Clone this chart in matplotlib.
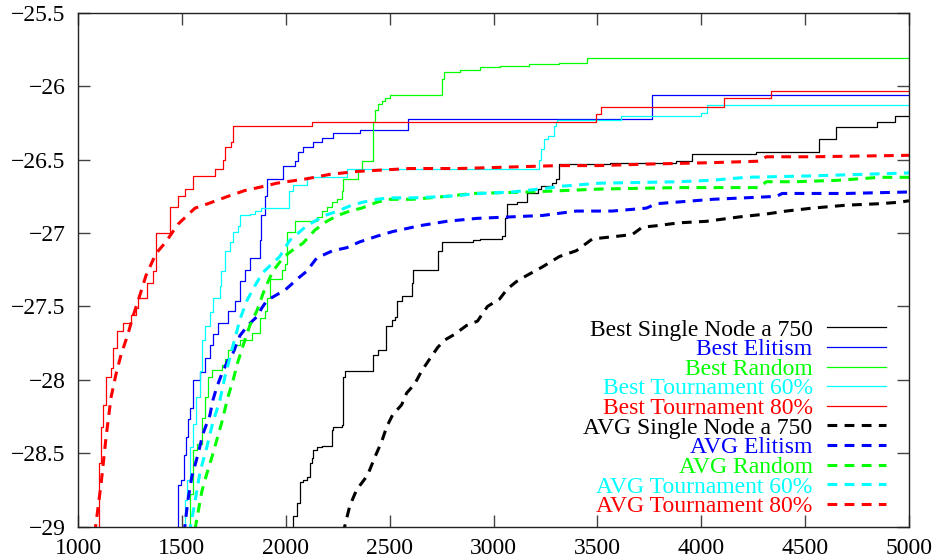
import matplotlib
matplotlib.use("Agg")
import matplotlib.pyplot as plt
from matplotlib.ticker import FuncFormatter

# ---- data (evaluations vs. fitness) ----
best_single_x = [2025, 2034, 2053, 2067, 2082, 2101, 2115, 2125, 2130, 2149,
                 2173, 2221, 2226, 2269, 2274, 2284, 2418, 2442, 2481, 2510,
                 2524, 2534, 2558, 2606, 2611, 2731, 2750, 2899, 2933, 3039,
                 3053, 3063, 3111, 3159, 3212, 3231, 3284, 3303, 3313, 3560,
                 3880, 3957, 4264, 4568, 4649, 4846, 4933, 5000]
best_single_y = [-29.1, -28.93, -28.84, -28.70, -28.68, -28.66, -28.57, -28.53, -28.48, -28.46,
                 -28.45, -28.34, -28.32, -28.31, -27.98, -27.94, -27.83, -27.80, -27.63, -27.59,
                 -27.57, -27.46, -27.43, -27.34, -27.25, -27.12, -27.06, -27.05, -27.04, -27.02,
                 -26.90, -26.80, -26.79, -26.73, -26.70, -26.68, -26.66, -26.63, -26.53, -26.52,
                 -26.51, -26.46, -26.45, -26.36, -26.28, -26.24, -26.20, -26.20]

best_elit_x = [1465, 1481, 1495, 1510, 1519, 1529, 1538, 1553, 1587, 1611,
               1635, 1649, 1673, 1721, 1755, 1779, 1803, 1827, 1875, 1880,
               1899, 1909, 1986, 2043, 2058, 2082, 2130, 2173, 2226, 2356,
               2587, 3765, 5000]
best_elit_y = [-29.1, -28.72, -28.68, -28.51, -28.39, -28.27, -28.19, -28.00, -27.95, -27.85,
               -27.76, -27.69, -27.61, -27.53, -27.46, -27.33, -27.25, -27.17, -27.05, -26.88,
               -26.75, -26.63, -26.54, -26.51, -26.45, -26.41, -26.38, -26.35, -26.32, -26.30,
               -26.22, -26.06, -26.06]

best_rand_x = [1500, 1538, 1553, 1572, 1596, 1611, 1625, 1644, 1692, 1707,
               1721, 1755, 1779, 1837, 1875, 1899, 1909, 1923, 1981, 1995,
               2005, 2043, 2149, 2173, 2197, 2221, 2245, 2269, 2274, 2346,
               2365, 2418, 2428, 2442, 2462, 2476, 2500, 2750, 2764, 2837,
               2933, 3029, 3173, 3317, 3452, 5000]
best_rand_y = [-29.1, -28.78, -28.48, -28.44, -28.26, -28.12, -27.98, -27.93, -27.90, -27.86,
               -27.80, -27.76, -27.73, -27.68, -27.58, -27.53, -27.44, -27.31, -27.25, -27.21,
               -26.99, -26.92, -26.89, -26.85, -26.82, -26.79, -26.77, -26.71, -26.63, -26.58,
               -26.51, -26.24, -26.16, -26.12, -26.10, -26.08, -26.06, -25.95, -25.90, -25.89,
               -25.87, -25.86, -25.85, -25.84, -25.81, -25.81]

best_t60_x = [1500, 1514, 1524, 1538, 1553, 1567, 1587, 1596, 1611, 1635,
              1649, 1683, 1688, 1707, 1731, 1745, 1769, 1779, 1827, 1851,
              1880, 2014, 2034, 2101, 2293, 3221, 3231, 3245, 3260, 3293,
              3303, 3308, 3616, 4000, 4029, 5000]
best_t60_y = [-29.1, -28.82, -28.68, -28.46, -28.30, -28.12, -27.94, -27.73, -27.63, -27.54,
              -27.44, -27.36, -27.26, -27.12, -27.06, -26.99, -26.95, -26.88, -26.87, -26.85,
              -26.83, -26.71, -26.67, -26.62, -26.56, -26.50, -26.43, -26.36, -26.34, -26.27,
              -26.24, -26.23, -26.20, -26.18, -26.13, -26.13]

best_t80_x = [1085, 1100, 1110, 1120, 1135, 1160, 1170, 1190, 1215, 1255,
              1280, 1290, 1330, 1360, 1375, 1442, 1481, 1514, 1553, 1659,
              1697, 1707, 1736, 1745, 2125, 3495, 3519, 4111, 4337, 5000]
best_t80_y = [-29.2, -28.57, -28.32, -28.17, -27.98, -27.92, -27.78, -27.67, -27.61, -27.56,
              -27.51, -27.44, -27.34, -27.26, -27.00, -26.82, -26.75, -26.70, -26.61, -26.56,
              -26.50, -26.41, -26.38, -26.27, -26.24, -26.19, -26.14, -26.08, -26.03, -26.03]

avg_single_x = [2275, 2308, 2341, 2394, 2428, 2462, 2486, 2514, 2558, 2582,
                2620, 2654, 2692, 2731, 2764, 2813, 2870, 2923, 2971, 3029,
                3067, 3111, 3159, 3236, 3317, 3399, 3476, 3606, 3668, 3716,
                3784, 3894, 4024, 4183, 4313, 4409, 4534, 4697, 4856, 4952,
                5000]
avg_single_y = [-29.05, -28.86, -28.75, -28.65, -28.53, -28.42, -28.32, -28.24, -28.17, -28.09,
                -28.03, -27.94, -27.86, -27.78, -27.73, -27.69, -27.63, -27.60, -27.50, -27.45,
                -27.38, -27.33, -27.29, -27.23, -27.16, -27.12, -27.04, -27.02, -27.01, -26.96,
                -26.95, -26.93, -26.92, -26.89, -26.87, -26.85, -26.83, -26.81, -26.80, -26.79,
                -26.78]

avg_elit_x = [1510, 1529, 1548, 1577, 1601, 1635, 1649, 1668, 1692, 1721,
              1745, 1779, 1817, 1861, 1885, 1909, 1957, 1995, 2019, 2058,
              2101, 2149, 2226, 2293, 2356, 2442, 2514, 2644, 2774, 2918,
              3077, 3236, 3399, 3572, 3736, 3784, 4053, 4361, 4390, 4697,
              5000]
avg_elit_y = [-29.05, -28.82, -28.66, -28.51, -28.37, -28.24, -28.14, -28.05, -27.96, -27.87,
              -27.82, -27.70, -27.63, -27.57, -27.51, -27.46, -27.42, -27.39, -27.36, -27.31,
              -27.26, -27.17, -27.12, -27.10, -27.06, -27.02, -26.99, -26.95, -26.92, -26.90,
              -26.89, -26.88, -26.85, -26.85, -26.83, -26.80, -26.77, -26.75, -26.73, -26.73,
              -26.72]

avg_rand_x = [1563, 1596, 1620, 1644, 1668, 1692, 1721, 1745, 1769, 1803,
              1827, 1861, 1899, 1938, 1986, 2029, 2082, 2140, 2197, 2250,
              2308, 2365, 2438, 2500, 2611, 2774, 2899, 3173, 3510, 3894,
              4279, 4313, 4457, 4664, 4856, 5000]
avg_rand_y = [-29.02, -28.76, -28.64, -28.53, -28.41, -28.29, -28.12, -28.01, -27.88, -27.73,
              -27.63, -27.53, -27.38, -27.26, -27.17, -27.12, -27.07, -26.98, -26.92, -26.88,
              -26.85, -26.83, -26.79, -26.77, -26.77, -26.75, -26.73, -26.72, -26.70, -26.69,
              -26.69, -26.65, -26.65, -26.64, -26.62, -26.62]

avg_t60_x = [1535, 1563, 1587, 1620, 1649, 1683, 1707, 1740, 1779, 1813,
             1851, 1889, 1933, 1971, 2019, 2101, 2188, 2250, 2317, 2370,
             2438, 2500, 2611, 2774, 2933, 3091, 3221, 3332, 3510, 3894,
             4053, 4216, 4534, 5000]
avg_t60_y = [-29.05, -28.83, -28.63, -28.46, -28.29, -28.14, -27.98, -27.80, -27.59, -27.46,
             -27.36, -27.27, -27.21, -27.16, -27.05, -26.95, -26.88, -26.85, -26.81, -26.79,
             -26.77, -26.76, -26.76, -26.75, -26.73, -26.72, -26.70, -26.68, -26.66, -26.65,
             -26.64, -26.62, -26.61, -26.59]

avg_t80_x = [1080, 1111, 1135, 1159, 1183, 1207, 1240, 1264, 1303, 1327,
             1375, 1423, 1481, 1563, 1625, 1721, 1803, 1899, 1957, 2101,
             2212, 2341, 2596, 2837, 3077, 3317, 3510, 3736, 4053, 4279,
             4313, 4534, 5000]
avg_t80_y = [-29.05, -28.71, -28.39, -28.12, -27.96, -27.83, -27.69, -27.57, -27.40, -27.29,
             -27.14, -27.06, -26.94, -26.83, -26.80, -26.75, -26.71, -26.68, -26.66, -26.63,
             -26.60, -26.58, -26.56, -26.56, -26.55, -26.54, -26.54, -26.53, -26.52, -26.51,
             -26.48, -26.48, -26.47]

plt.rcParams['font.family'] = ['Liberation Serif', 'DejaVu Serif']

fig = plt.figure(figsize=(9.4, 5.6), dpi=100)
ax = fig.add_axes([0.083, 0.0598, 0.884, 0.917])

solid = dict(lw=0.9, drawstyle='steps-post')
dashed = dict(lw=2.2, dashes=(3.2, 2.4))

ax.plot(best_single_x, best_single_y, color='black', label='Best Single Node a 750', **solid)
ax.plot(best_elit_x, best_elit_y, color='#0000ff', label='Best Elitism', **solid)
ax.plot(best_rand_x, best_rand_y, color='#00ff00', label='Best Random', **solid)
ax.plot(best_t60_x, best_t60_y, color='#00ffff', label='Best Tournament 60%', **solid)
ax.plot(best_t80_x, best_t80_y, color='#ff0000', label='Best Tournament 80%', **solid)
ax.plot(avg_single_x, avg_single_y, color='black', label='AVG Single Node a 750', **dashed)
ax.plot(avg_elit_x, avg_elit_y, color='#0000ff', label='AVG Elitism', **dashed)
ax.plot(avg_rand_x, avg_rand_y, color='#00ff00', label='AVG Random', **dashed)
ax.plot(avg_t60_x, avg_t60_y, color='#00ffff', label='AVG Tournament 60%', **dashed)
ax.plot(avg_t80_x, avg_t80_y, color='#ff0000', label='AVG Tournament 80%', **dashed)

ax.set_xlim(1000, 5000)
ax.set_ylim(-29, -25.5)
ax.set_xticks(range(1000, 5001, 500))
ax.set_yticks([-29 + 0.5 * i for i in range(8)])
ax.yaxis.set_major_formatter(FuncFormatter(lambda v, p: f'{v:g}'.replace('-', '\u2212')))

for s in ax.spines.values():
    s.set_color('#222222')
    s.set_linewidth(1.0)
ax.tick_params(direction='in', length=8.5, width=1.0, color='#444444',
               top=True, right=True, labelsize=17)
ax.tick_params(axis='y', pad=9)
ax.tick_params(axis='x', pad=8)

leg = ax.legend(loc='lower right', bbox_to_anchor=(0.972, 0.018), frameon=False,
                markerfirst=False, labelcolor='linecolor', fontsize=17,
                handlelength=2.5, handletextpad=0.6, labelspacing=-0.08,
                borderpad=0, borderaxespad=0)

fig.savefig('out.png', dpi=100)
